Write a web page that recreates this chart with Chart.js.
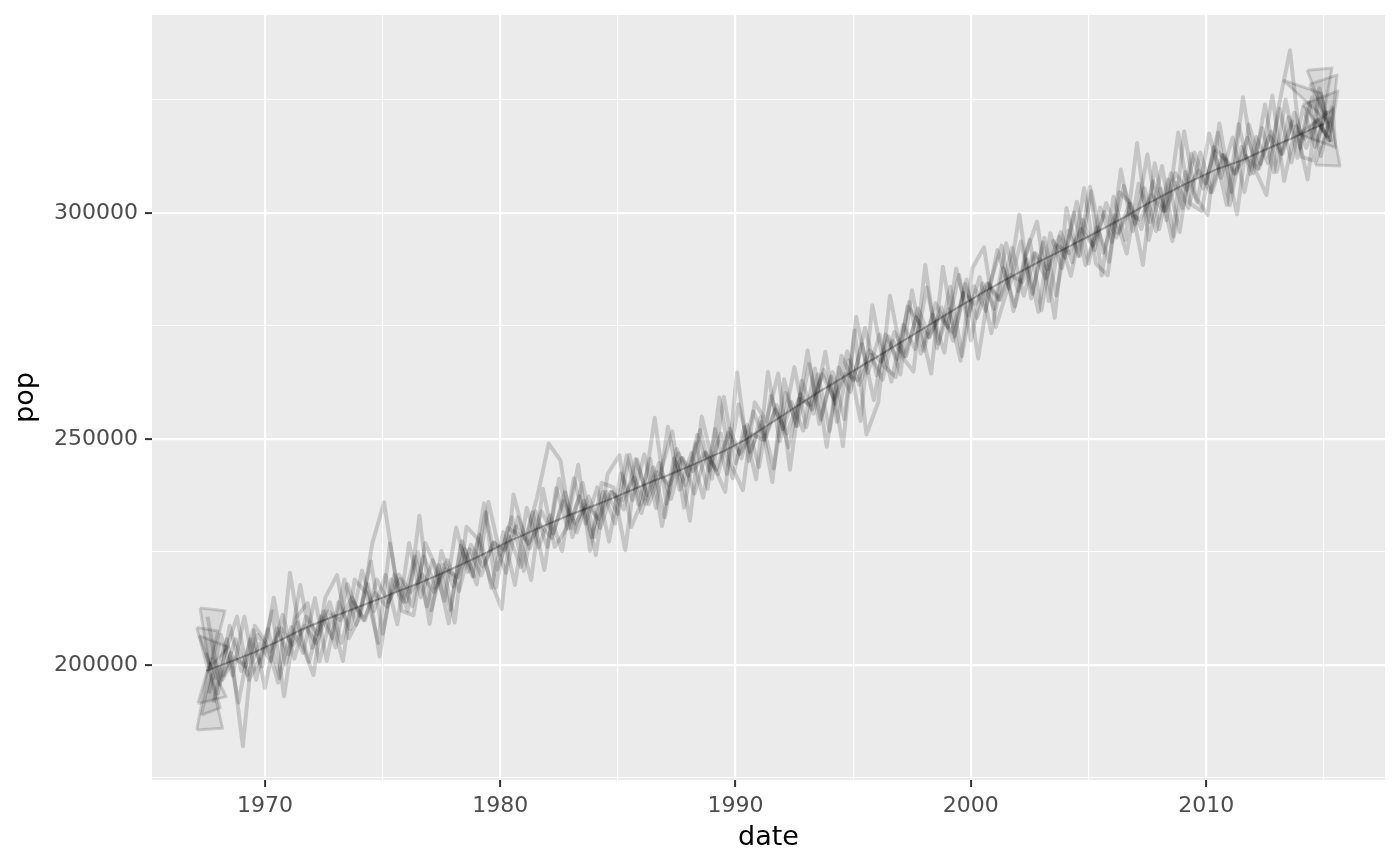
<!DOCTYPE html>
<html>
<head>
<meta charset="utf-8">
<script src="https://cdn.jsdelivr.net/npm/chart.js@4.4.1/dist/chart.umd.min.js"></script>
<style>
  html, body { margin: 0; padding: 0; background: #ffffff; }
  #wrap { width: 1400px; height: 866px; }
</style>
</head>
<body>
<div id="wrap"><canvas id="chart" width="1400" height="866"></canvas></div>
<script>
// sample dates, decimal years every six months
const halfYears = [
  1967.5, 1968, 1968.5, 1969, 1969.5, 1970, 1970.5, 1971, 1971.5, 1972,
  1972.5, 1973, 1973.5, 1974, 1974.5, 1975, 1975.5, 1976, 1976.5, 1977,
  1977.5, 1978, 1978.5, 1979, 1979.5, 1980, 1980.5, 1981, 1981.5, 1982,
  1982.5, 1983, 1983.5, 1984, 1984.5, 1985, 1985.5, 1986, 1986.5, 1987,
  1987.5, 1988, 1988.5, 1989, 1989.5, 1990, 1990.5, 1991, 1991.5, 1992,
  1992.5, 1993, 1993.5, 1994, 1994.5, 1995, 1995.5, 1996, 1996.5, 1997,
  1997.5, 1998, 1998.5, 1999, 1999.5, 2000, 2000.5, 2001, 2001.5, 2002,
  2002.5, 2003, 2003.5, 2004, 2004.5, 2005, 2005.5, 2006, 2006.5, 2007,
  2007.5, 2008, 2008.5, 2009, 2009.5, 2010, 2010.5, 2011, 2011.5, 2012,
  2012.5, 2013, 2013.5, 2014, 2014.5, 2015
];

// central population path
const trendPop = [
  198700, 199700, 200700, 201700, 202700, 203900, 205100, 206400, 207700, 208800,
  209900, 210900, 211900, 212900, 213900, 214900, 216000, 217000, 218000, 219100,
  220200, 221400, 222600, 223800, 225100, 226400, 227700, 228800, 230000, 231100,
  232200, 233300, 234300, 235300, 236300, 237400, 238500, 239600, 240700, 241700,
  242800, 243900, 245000, 246200, 247300, 248700, 250100, 251800, 253500, 255200,
  256900, 258600, 260300, 261800, 263400, 265000, 266600, 268100, 269700, 271300,
  272900, 274500, 276100, 277700, 279300, 280800, 282400, 283800, 285300, 286700,
  288100, 289500, 290800, 292100, 293500, 294800, 296200, 297600, 299000, 300500,
  302000, 303400, 304800, 306100, 307400, 308600, 309800, 310700, 311600, 312800,
  314000, 315100, 316200, 317400, 318600, 319700
];

// noisy draws around the path
const drawA = [
  202700, 193700, 208700, 198700, 207700, 194900, 208100, 202400, 217700, 203800,
  211900, 203900, 217900, 210900, 222900, 206900, 220000, 214000, 225000, 209100,
  225200, 217400, 225600, 217800, 236100, 224400, 232700, 220800, 234000, 226100,
  241200, 230300, 240300, 228300, 238300, 233400, 246500, 233600, 243700, 232700,
  247800, 241900, 252000, 241200, 259300, 244700, 253100, 243800, 259500, 252200,
  265900, 252600, 264300, 251800, 268400, 263000, 274600, 264100, 272700, 264300,
  282900, 269500, 280100, 274700, 286300, 271800, 284400, 278800, 293300, 282700,
  294100, 278500, 293800, 290100, 302500, 288800, 301200, 293600, 306000, 297500,
  313000, 296400, 308800, 301100, 313400, 306600, 317800, 301700, 314600, 308800,
  324000, 309100, 321200, 314400, 325600, 317700
];
const drawB = [
  193700, 206700, 197700, 210700, 196700, 207900, 197100, 208400, 202700, 214800,
  200900, 213900, 207900, 220900, 211900, 219900, 209000, 227000, 215000, 223100,
  214200, 230400, 220600, 228800, 217100, 229400, 217700, 234800, 226000, 233100,
  225200, 241300, 231300, 239300, 227300, 242400, 236500, 246600, 234700, 252700,
  238800, 246900, 237000, 252200, 242300, 257700, 247100, 253800, 243500, 260200,
  252900, 266600, 254300, 264800, 254400, 277000, 264600, 273100, 262700, 275300,
  269900, 283500, 271100, 283700, 268300, 283800, 278400, 291800, 283300, 293700,
  282100, 294500, 281800, 296100, 290500, 304800, 291200, 299600, 291000, 306500,
  298000, 310400, 294800, 309100, 302400, 317600, 307800, 316700, 304600, 316800,
  311000, 323100, 311200, 323400, 314600, 322700
];
const drawC = [
  201700, 197700, 205700, 197700, 204700, 200900, 211100, 201400, 210700, 206800,
  213900, 204900, 213900, 209900, 218900, 213900, 219000, 213000, 224000, 217100,
  223200, 216400, 226600, 221800, 227100, 220400, 232700, 225800, 234000, 229100,
  238200, 229300, 237300, 230300, 238300, 234400, 245500, 237600, 244700, 236700,
  245800, 237900, 247000, 242200, 252300, 245700, 256100, 249800, 257500, 248200,
  259900, 256600, 265300, 257800, 269400, 262000, 268600, 263100, 273700, 268300,
  278900, 272500, 279100, 271700, 284300, 276800, 284400, 280800, 292300, 281700,
  291100, 287500, 294800, 286100, 298500, 291800, 302200, 295600, 302000, 296500,
  307000, 300400, 306800, 301100, 313400, 304600, 312800, 308700, 316600, 309800,
  318000, 313100, 322200, 314400, 320600, 315700
];
const drawD = [
  196700, 205700, 191700, 205700, 199700, 214900, 200100, 209400, 200700, 210800,
  205900, 218900, 208900, 217900, 201900, 218900, 214000, 224000, 213000, 222100,
  212200, 227400, 219600, 233800, 221100, 228400, 221700, 233800, 221000, 239100,
  230200, 237300, 228300, 238300, 231300, 246400, 235500, 245600, 230700, 245700,
  239800, 250900, 243000, 251200, 241300, 252700, 241100, 264800, 249500, 258200,
  251900, 265600, 248300, 265800, 260400, 271000, 258600, 273100, 267700, 280300,
  268900, 277500, 269100, 287700, 277300, 285800, 273400, 287800, 279300, 289700,
  278100, 295500, 287800, 300100, 288500, 296800, 289200, 309600, 296000, 305500,
  296000, 307400, 295800, 313100, 305400, 313600, 301800, 319700, 308600, 318800,
  309000, 325100, 312200, 324400, 312600, 323700
];
const drawE = [
  210700, 195700, 202700, 182000, 208700, 204900, 196100, 220400, 204700, 197800,
  214900, 219900, 205900, 210900, 226900, 236000, 219000, 212000, 233000, 212100,
  222200, 209400, 230600, 227800, 219100, 212400, 237700, 227800, 237000, 249000,
  245200, 228300, 236300, 224300, 242300, 246400, 230500, 236600, 254700, 235700,
  246800, 231900, 255000, 244200, 238300, 264700, 245100, 254800, 240500, 263200,
  252900, 269600, 253300, 263800, 248400, 274000, 251000, 258100, 281700, 268300,
  264900, 288500, 270100, 278700, 267300, 287800, 292400, 274800, 283300, 299700,
  281100, 293500, 276800, 301100, 290500, 305800, 286200, 303600, 294000, 315500,
  294000, 305400, 293800, 318100, 303400, 299600, 319800, 304700, 325600, 309800,
  304000, 323100, 336000, 312400, 311600, 322700
];
const drawF = [
  191700, 202700, 210700, 196700, 201700, 211900, 193100, 210400, 213700, 200800,
  210900, 200900, 218900, 215900, 204900, 226900, 212000, 211000, 227000, 221100,
  209200, 226400, 219600, 235800, 217100, 230400, 228700, 218800, 239000, 226100,
  230200, 244300, 225300, 240300, 239300, 225400, 245500, 235600, 242700, 251700,
  234800, 248900, 239000, 259200, 244300, 238700, 258100, 253800, 264500, 243200,
  262900, 255600, 269300, 253800, 267400, 254000, 279600, 266100, 263700, 279300,
  275900, 264500, 288100, 272700, 285300, 267800, 284400, 292800, 278300, 290700,
  298100, 280500, 295800, 289100, 305500, 288800, 286200, 304600, 302000, 288500,
  311000, 298400, 317800, 302100, 300400, 314600, 311800, 299700, 319600, 310800,
  326000, 307100, 319200, 307400, 327600, 315700
];
const drawG = [
  200700, 196700, 201700, 199700, 206700, 202900, 208100, 204400, 208700, 204800,
  211900, 209900, 214900, 209900, 215900, 212900, 220000, 216000, 220000, 216100,
  221200, 219400, 225600, 219800, 227100, 225400, 230700, 226800, 231000, 228100,
  236200, 231300, 235300, 232300, 238300, 236400, 241500, 235600, 242700, 239700,
  245800, 242900, 247000, 243200, 251300, 246700, 251100, 249800, 256500, 251200,
  258900, 257600, 264300, 258800, 264400, 263000, 269600, 267100, 271700, 268300,
  276900, 272500, 277100, 273700, 282300, 279800, 284400, 280800, 286300, 284700,
  291100, 285500, 292800, 291100, 296500, 292800, 300200, 294600, 300000, 298500,
  304000, 300400, 308800, 305100, 309400, 304600, 312800, 308700, 312600, 309800,
  317000, 313100, 320200, 316400, 320600, 316700
];
const draws = [drawA, drawB, drawC, drawD, drawE, drawF, drawG];
// month within each half year at which a draw is sampled
const drawMonths = [0, 1.5, 3, 4.5, 0.75, 3.75, 2.25];

// closing fans at both ends of the series: [year, pop]
const startFans = [
  [[1967.24, 212600], [1968.30, 212000], [1967.66, 199000], [1967.24, 212600]],
  [[1967.10, 208300], [1968.00, 207500], [1967.60, 198500], [1967.10, 208300]],
  [[1967.20, 206500], [1968.45, 204000], [1967.70, 199500], [1967.20, 206500]],
  [[1967.10, 185600], [1968.20, 186000], [1967.60, 199500], [1967.10, 185600]],
  [[1967.30, 188900], [1968.10, 190500], [1967.70, 198000], [1967.30, 188900]],
  [[1967.15, 191500], [1968.35, 193000], [1967.65, 200500], [1967.15, 191500]]
];
const endFans = [
  [[2013.27, 329400], [2014.90, 326500], [2015.20, 320000], [2013.27, 329400]],
  [[2014.29, 331600], [2015.35, 332100], [2015.00, 322000], [2014.29, 331600]],
  [[2014.40, 328500], [2015.56, 330500], [2015.30, 318000], [2014.40, 328500]],
  [[2014.63, 310600], [2015.69, 310400], [2015.30, 321000], [2014.63, 310600]],
  [[2013.90, 317500], [2015.50, 314500], [2015.40, 323000], [2013.90, 317500]],
  [[2014.10, 324000], [2015.60, 327000], [2015.25, 316000], [2014.10, 324000]]
];

const xTicks = [1965, 1970, 1975, 1980, 1985, 1990, 1995, 2000, 2005, 2010, 2015];
const xLabels = [1970, 1980, 1990, 2000, 2010];
const yTicks = [175000, 200000, 225000, 250000, 275000, 300000, 325000];
const yLabels = [200000, 250000, 300000];

const datasets = [];

draws.forEach((values, k) => {
  datasets.push({
    data: values.map((v, i) => ({ x: halfYears[i] + drawMonths[k] / 12, y: v })),
    borderColor: 'rgba(0, 0, 0, 0.16)',
    borderWidth: 4,
    borderJoinStyle: 'round',
    pointRadius: 0,
    tension: 0,
    fill: false
  });
});

datasets.push({
  data: trendPop.map((v, i) => ({ x: halfYears[i], y: v })),
  borderColor: 'rgba(0, 0, 0, 0.3)',
  borderWidth: 2,
  pointRadius: 0,
  tension: 0,
  fill: false
});

startFans.concat(endFans).forEach(poly => {
  datasets.push({
    data: poly.map(p => ({ x: p[0], y: p[1] })),
    borderColor: 'rgba(0, 0, 0, 0.15)',
    backgroundColor: 'rgba(0, 0, 0, 0.08)',
    borderWidth: 3,
    borderJoinStyle: 'round',
    pointRadius: 0,
    tension: 0,
    fill: 'shape'
  });
});

// grey panel behind the grid
const panelBg = {
  id: 'panelBg',
  beforeDraw(chart) {
    const { ctx, chartArea: a } = chart;
    ctx.save();
    ctx.fillStyle = '#EBEBEB';
    ctx.fillRect(a.left, a.top, a.right - a.left, a.bottom - a.top);
    ctx.restore();
  }
};

const isMajor = (list, c) => c.tick && list.includes(c.tick.value);

new Chart(document.getElementById('chart'), {
  type: 'line',
  data: { datasets: datasets },
  plugins: [panelBg],
  options: {
    responsive: false,
    animation: false,
    devicePixelRatio: 1,
    layout: { padding: { top: 15, right: 15, left: 0, bottom: 0 } },
    plugins: {
      legend: { display: false },
      tooltip: { enabled: false }
    },
    scales: {
      x: {
        type: 'linear',
        min: 1965.2,
        max: 2017.6,
        afterBuildTicks: scale => { scale.ticks = xTicks.map(v => ({ value: v })); },
        afterFit: scale => {
          scale.height = 86;
          scale.paddingLeft = 0;
          scale.paddingRight = 0;
        },
        border: { display: false },
        grid: {
          color: '#ffffff',
          lineWidth: c => isMajor(xLabels, c) ? 2.2 : 1.1,
          tickColor: c => isMajor(xLabels, c) ? '#333333' : 'rgba(0,0,0,0)',
          tickLength: 7,
          tickWidth: 2
        },
        ticks: {
          autoSkip: false,
          maxRotation: 0,
          padding: 6,
          color: '#4D4D4D',
          font: { family: 'DejaVu Sans', size: 22 },
          callback: v => xLabels.includes(v) ? String(v) : ''
        },
        title: {
          display: true,
          text: 'date',
          color: '#000000',
          font: { family: 'DejaVu Sans', size: 27 },
          padding: { top: 0, bottom: 12 }
        }
      },
      y: {
        type: 'linear',
        min: 174558,
        max: 343805,
        afterBuildTicks: scale => { scale.ticks = yTicks.map(v => ({ value: v })); },
        afterFit: scale => {
          scale.width = 152;
          scale.paddingTop = 0;
          scale.paddingBottom = 0;
        },
        border: { display: false },
        grid: {
          color: '#ffffff',
          lineWidth: c => isMajor(yLabels, c) ? 2.2 : 1.1,
          tickColor: c => isMajor(yLabels, c) ? '#333333' : 'rgba(0,0,0,0)',
          tickLength: 7,
          tickWidth: 2
        },
        ticks: {
          autoSkip: false,
          padding: 7,
          color: '#4D4D4D',
          font: { family: 'DejaVu Sans', size: 22 },
          callback: v => yLabels.includes(v) ? String(v) : ''
        },
        title: {
          display: true,
          text: 'pop',
          color: '#000000',
          font: { family: 'DejaVu Sans', size: 27 },
          padding: { top: 10, bottom: 0 }
        }
      }
    }
  }
});
</script>
</body>
</html>
